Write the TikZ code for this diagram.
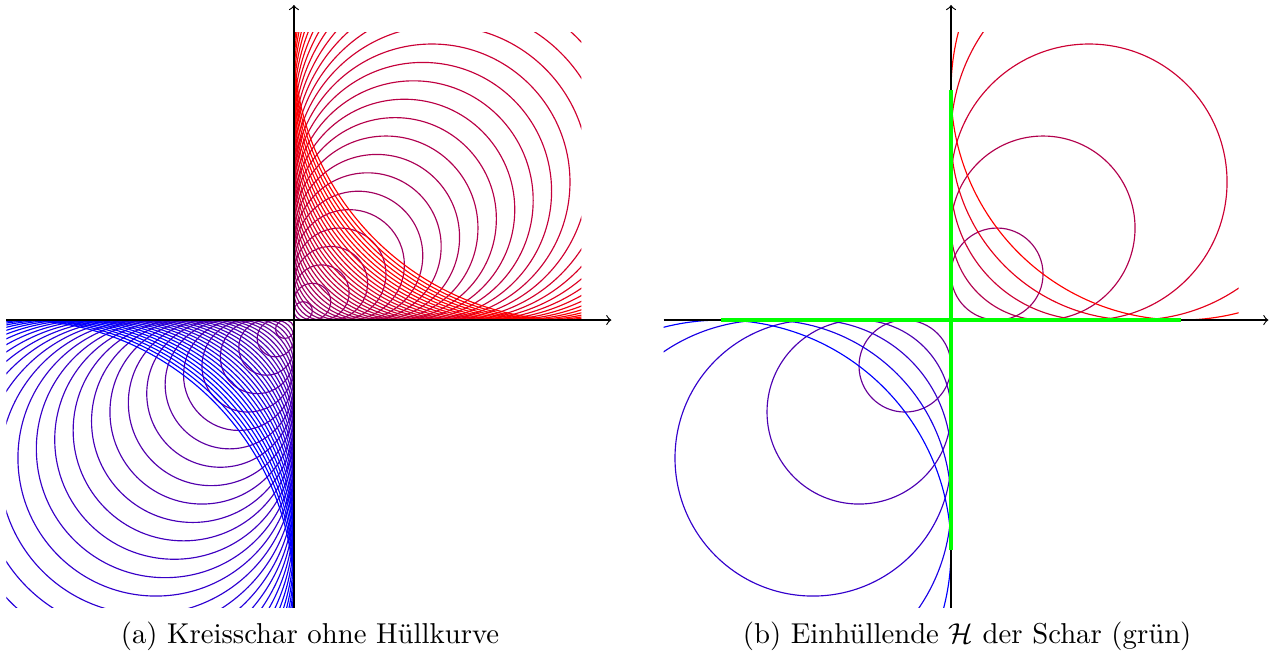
\documentclass[tikz,border=0pt]{standalone}
\usepackage{amsmath}
\begin{document}
\begin{tikzpicture}[x=16pt,y=16pt,
    achse/.style={->},
    huelle/.style={green, line width=1.7pt}]
    \useasboundingbox (-6.39,-7.413) rectangle (21.26,6.957);
    % (a) dichte Schar, Mittelpunkt (t,t), Radius |t|
    \coordinate (Oa) at (0,0);
    \begin{scope}
        \clip (-6.25,-6.25) rectangle (6.25,6.25);
        \foreach \t in {0.2,0.4,...,6.01}{
            \pgfmathtruncatemacro\anteil{min(100,50+10*\t)}
            \draw[red!\anteil!blue] (\t,\t) circle [radius=\t];
            \pgfmathtruncatemacro\anteil{max(0,50-10*\t)}
            \draw[red!\anteil!blue] (-\t,-\t) circle [radius=\t];
        }
    \end{scope}
    \draw[achse] (-6.25,0) -- (6.9,0);
    \draw[achse] (0,-6.25) -- (0,6.85);
    \node[anchor=base] (capa) at (0.35,-7.04) {(a) Kreisschar ohne H\"ullkurve};
    % (b) nur t = -5..5, dazu die Einhuellende
    \begin{scope}[shift={(14.283,0)}]
        \coordinate (Ob) at (0,0);
        \begin{scope}
            \clip (-6.25,-6.25) rectangle (6.25,6.25);
            \foreach \t in {1,...,5}{
                \pgfmathtruncatemacro\anteil{min(100,50+10*\t)}
                \draw[red!\anteil!blue] (\t,\t) circle [radius=\t];
                \pgfmathtruncatemacro\anteil{max(0,50-10*\t)}
                \draw[red!\anteil!blue] (-\t,-\t) circle [radius=\t];
            }
        \end{scope}
        \draw[achse] (-6.25,0) -- (6.9,0);
        \draw[achse] (0,-6.25) -- (0,6.85);
        \draw[huelle] (-5,0) -- (5,0);  % H auf der x-Achse
        \draw[huelle] (0,-5) -- (0,5);  % H auf der y-Achse
        \node[anchor=base] (capb) at (0.35,-7.04) {(b) Einh\"ullende $\mathcal{H}$ der Schar (gr\"un)};
    \end{scope}
\end{tikzpicture}
\end{document}
